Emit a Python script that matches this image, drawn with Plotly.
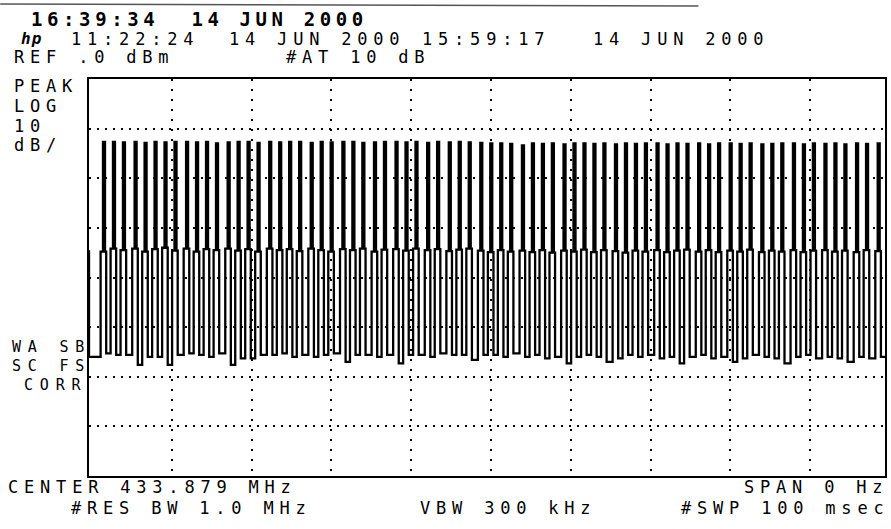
import plotly.graph_objects as go

# ---- data ----
# pulse times (ms) across the 100 ms zero-span sweep
pulse_ms = [1.38, 2.63, 3.88, 5.34, 6.59, 7.84, 9.09, 10.34, 11.79, 13.04,
            14.29, 15.54, 17.0, 18.25, 19.5, 20.75, 22.21, 23.46, 24.71, 25.96,
            27.41, 28.66, 29.91, 31.38, 32.63, 33.88, 35.34, 36.59, 38.04, 39.29,
            40.54, 42.0, 43.25, 44.71, 45.96, 47.21, 48.66, 49.91, 51.16, 52.41,
            53.88, 55.13, 56.38, 57.63, 59.09, 60.34, 61.59, 62.84, 64.09, 65.54,
            66.79, 68.04, 69.29, 70.75, 72.0, 73.25, 74.5, 75.96, 77.21, 78.46,
            79.91, 81.16, 82.41, 83.88, 85.13, 86.38, 87.84, 89.09, 90.34, 91.79,
            93.04, 94.29, 95.75, 97.0, 98.46]
# spike peak level (dBm)
peak_dbm = [-12.7, -12.7, -12.8, -12.7, -12.9, -12.7, -12.8, -12.7, -12.7, -12.8,
            -12.7, -13.0, -12.8, -12.7, -12.7, -12.9, -12.7, -12.8, -12.7, -12.7,
            -12.9, -12.7, -12.8, -12.7, -12.7, -12.9, -12.8, -12.7, -12.7, -12.8,
            -12.7, -12.9, -12.7, -12.8, -12.7, -12.8, -12.9, -13.0, -13.0, -13.1,
            -13.4, -13.0, -13.1, -13.0, -13.2, -13.0, -13.0, -13.1, -13.0, -13.2,
            -13.0, -13.1, -13.0, -13.0, -13.2, -13.0, -13.1, -13.0, -13.2, -13.0,
            -13.0, -13.1, -13.0, -13.2, -13.1, -13.0, -13.0, -13.2, -13.0, -13.1,
            -13.0, -13.2, -13.0, -13.1, -13.0]
# upper level of the square wave under each spike (dBm)
high_dbm = [-34.8, -34.2, -34.5, -34.2, -34.8, -34.3, -34.0, -34.6, -34.2, -34.8,
            -34.3, -34.5, -34.2, -34.6, -34.3, -34.8, -34.2, -34.5, -34.3, -34.7,
            -34.2, -34.5, -34.8, -34.3, -34.5, -34.2, -34.8, -34.4, -34.3, -34.6,
            -34.2, -34.5, -34.3, -34.7, -34.4, -34.2, -34.6, -34.9, -34.5, -34.8,
            -34.6, -34.9, -34.5, -35.0, -34.6, -34.8, -34.4, -34.9, -34.5, -34.7,
            -35.0, -34.6, -34.8, -34.5, -34.9, -34.6, -34.4, -34.8, -34.5, -34.9,
            -34.6, -34.8, -34.4, -34.9, -34.6, -34.8, -34.5, -34.9, -34.6, -34.5,
            -34.8, -34.6, -34.9, -34.5, -34.7]
# lower level of the square wave after each spike (dBm)
low_dbm = [-55.3, -55.6, -55.6, -57.6, -56.0, -56.0, -57.6, -55.6, -55.3, -55.6,
           -56.0, -55.3, -57.6, -56.3, -56.3, -55.6, -55.6, -55.3, -56.0, -55.6,
           -56.0, -55.6, -55.3, -57.0, -55.6, -55.6, -56.0, -55.6, -57.3, -55.6,
           -55.6, -56.0, -55.3, -55.6, -55.6, -56.6, -55.6, -55.6, -56.0, -55.3,
           -56.0, -55.6, -56.3, -56.0, -57.3, -56.0, -55.6, -56.0, -57.0, -56.3,
           -55.6, -56.0, -55.6, -56.3, -56.0, -57.3, -56.0, -55.6, -56.3, -56.0,
           -57.0, -56.3, -55.6, -56.0, -56.3, -57.3, -56.0, -55.6, -56.3, -56.0,
           -56.3, -57.0, -56.0, -56.3, -56.0]
start_dbm = [-34.5, -56.0]   # trace level at the left edge (from, to)

# ---- build the trace ----
X_MIN, X_MAX = -0.375, 99.375
xs, ys = [X_MIN, X_MIN], [start_dbm[0], start_dbm[1]]
prev_low = start_dbm[1]
for t, pk, hi, lo in zip(pulse_ms, peak_dbm, high_dbm, low_dbm):
    xs += [t - 0.3, t - 0.3, t, t, t + 0.25, t + 0.25, t + 0.4, t + 0.4]
    ys += [prev_low, hi, hi, pk, pk, hi, hi, lo]
    prev_low = lo
xs.append(X_MAX)
ys.append(prev_low)

fig = go.Figure(go.Scatter(x=xs, y=ys, mode="lines",
                           line=dict(color="black", width=2.3),
                           hoverinfo="skip", showlegend=False))

W, H = 891, 529
L, R, T, B = 89, 887, 79, 476
FONT = "DejaVu Sans Mono"


def ann(text, px, py, size=17, bold=False, spacing=5.8):
    t = f'<span style="letter-spacing:{spacing}px">{text}</span>'
    if bold:
        t = f"<b>{t}</b>"
    return dict(text=t, x=(px - L) / (R - L), y=1 - (py - T) / (B - T),
                xref="paper", yref="paper", xanchor="left", yanchor="middle",
                showarrow=False, font=dict(family=FONT, size=size, color="black"),
                borderpad=0)


annotations = [
    ann("16:39:34  14 JUN 2000", 30, 19, size=19, bold=True, spacing=4.6),
    ann("<i>hp</i>", 20, 39, size=16, bold=True, spacing=1),
    ann("11:22:24", 70, 39),
    ann("14 JUN 2000", 228, 39),
    ann("15:59:17", 422, 39),
    ann("14 JUN 2000", 593, 39),
    ann("REF .0 dBm", 13, 57),
    ann("#AT 10 dB", 285, 57),
    ann("PEAK", 13, 86),
    ann("LOG", 13, 106),
    ann("10", 13, 126),
    ann("dB/", 13, 145),
    ann("WA SB", 11, 347, size=15, spacing=6.8),
    ann("SC FS", 11, 366, size=15, spacing=6.8),
    ann("CORR", 23, 385, size=15, spacing=6.8),
    ann("CENTER 433.879 MHz", 7, 487),
    ann("#RES BW 1.0 MHz", 70, 508),
    ann("VBW 300 kHz", 420, 508),
    ann("SPAN 0 Hz", 745, 487),
    ann("#SWP 100 msec", 681, 508),
]

fig.update_layout(
    width=W, height=H,
    margin=dict(l=L, r=W - R, t=T, b=H - B, pad=0),
    paper_bgcolor="white", plot_bgcolor="white",
    annotations=annotations,
    shapes=[dict(type="line", xref="paper", yref="paper",
                 x0=(0 - L) / (R - L), x1=(700 - L) / (R - L),
                 y0=1 - (4 - T) / (B - T), y1=1 - (6 - T) / (B - T),
                 line=dict(color="#555555", width=1.5))],
)
fig.update_xaxes(range=[X_MIN, X_MAX], tickvals=[10, 20, 30, 40, 50, 60, 70, 80, 90],
                 showticklabels=False, ticks="", showgrid=True,
                 gridcolor="black", gridwidth=1.6, griddash="2px,8px",
                 showline=True, linecolor="black", linewidth=2, mirror=True,
                 zeroline=False)
fig.update_yaxes(range=[-80, 0], tickvals=[-70, -60, -50, -40, -30, -20, -10],
                 showticklabels=False, ticks="", showgrid=True,
                 gridcolor="black", gridwidth=1.6, griddash="2px,6px",
                 showline=True, linecolor="black", linewidth=2, mirror=True,
                 zeroline=False)

fig.write_html("out.html", config={"displayModeBar": False},
               post_script="document.body.style.margin='0';document.body.style.padding='0';")
